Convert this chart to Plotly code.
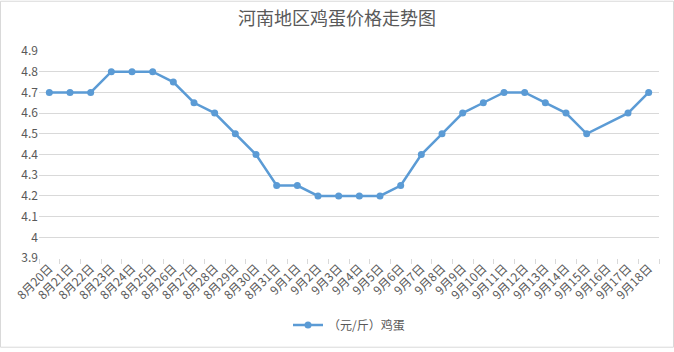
import plotly.graph_objects as go

dates = ["8月20日","8月21日","8月22日","8月23日","8月24日","8月25日","8月26日","8月27日","8月28日","8月29日",
         "8月30日","8月31日","9月1日","9月2日","9月3日","9月4日","9月5日","9月6日","9月7日","9月8日",
         "9月9日","9月10日","9月11日","9月12日","9月13日","9月14日","9月15日","9月16日","9月17日","9月18日"]
prices = [4.7,4.7,4.7,4.8,4.8,4.8,4.75,4.65,4.6,4.5,
          4.4,4.25,4.25,4.2,4.2,4.2,4.2,4.25,4.4,4.5,
          4.6,4.65,4.7,4.7,4.65,4.6,4.5,None,4.6,4.7]
y_ticks = [3.9,4.0,4.1,4.2,4.3,4.4,4.5,4.6,4.7,4.8,4.9]
y_labels = ["3.9","4","4.1","4.2","4.3","4.4","4.5","4.6","4.7","4.8","4.9"]

font = "Noto Sans CJK SC, Microsoft YaHei, sans-serif"
fig = go.Figure()
fig.add_trace(go.Scatter(x=dates, y=prices, mode="lines+markers", name="（元/斤）鸡蛋",
                         connectgaps=True,
                         line=dict(color="#5b9bd5", width=2.5),
                         marker=dict(color="#5b9bd5", size=7)))

W, H = 674, 352
l, r, t, b = 39, 15, 51, 91
pw, ph = W - l - r, H - t - b
fig.update_layout(
    width=W, height=H,
    margin=dict(l=l, r=r, t=t, b=b),
    paper_bgcolor="white", plot_bgcolor="white",
    font=dict(family=font, color="#595959", size=12),
    title=dict(text="河南地区鸡蛋价格走势图", x=0.5, xanchor="center", y=1 - 19/H, yanchor="middle",
               font=dict(size=18, color="#595959", family=font)),
    showlegend=True,
    legend=dict(orientation="h", x=0.5, xanchor="center", y=(261-329)/ph, yanchor="middle",
                font=dict(size=12, color="#595959", family=font)),
    xaxis=dict(type="category", range=[-0.5, len(dates) - 0.5], tickangle=-45, showgrid=False,
               ticks="outside", tickson="boundaries",
               ticklen=5, tickcolor="#d9d9d9", showline=False, zeroline=False,
               tickfont=dict(size=12, color="#595959", family=font)),
    yaxis=dict(range=[3.9, 4.9], tickvals=y_ticks, ticktext=y_labels, showgrid=True, gridcolor="#d9d9d9",
               gridwidth=1, zeroline=False, showline=False, ticks="",
               tickfont=dict(size=12, color="#595959", family=font)),
    shapes=[dict(type="rect", xref="paper", yref="paper",
                 x0=(0.5 - l)/pw, x1=(W - 0.5 - l)/pw,
                 y0=(t + ph - (H - 0.5))/ph, y1=(t + ph - 0.5)/ph,
                 line=dict(color="#d9d9d9", width=1), layer="below")]
)
fig.write_html("out.html")
